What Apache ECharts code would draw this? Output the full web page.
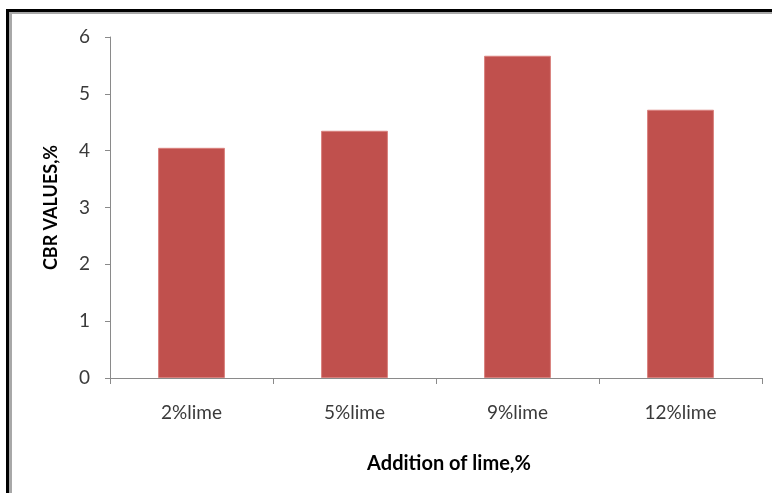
<!DOCTYPE html>
<html>
<head>
<meta charset="utf-8">
<script src="https://cdn.jsdelivr.net/npm/echarts@6/dist/echarts.min.js"></script>
<style>
  html, body { margin: 0; padding: 0; background: #ffffff; }
  #chart { width: 772px; height: 493px; }
</style>
</head>
<body>
<div id="chart"></div>
<script>
// Lime content categories and measured CBR values
const categories = ['2%lime', '5%lime', '9%lime', '12%lime'];
const cbrValues = [4.05, 4.35, 5.67, 4.72];
const yTicks = [0, 1, 2, 3, 4, 5, 6];

const FONT = 'Lato, "Open Sans", sans-serif';
const chart = echarts.init(document.getElementById('chart'), null, { renderer: 'canvas' });

chart.setOption({
  backgroundColor: '#ffffff',
  animation: false,
  grid: { left: 110, right: 10, top: 37, bottom: 115, containLabel: false },
  xAxis: {
    type: 'category',
    data: categories,
    boundaryGap: true,
    name: 'Addition of lime,%',
    nameLocation: 'middle',
    nameGap: 76,
    nameTextStyle: {
      fontFamily: FONT, fontSize: 20, fontWeight: 'bold', color: '#000000',
      padding: [0, 0, 0, 26]
    },
    axisLine: { lineStyle: { color: '#8a8a8a', width: 1 } },
    axisTick: { show: true, length: 6, lineStyle: { color: '#8a8a8a' } },
    axisLabel: { fontFamily: FONT, fontSize: 19, color: '#3a3a3a', margin: 25 }
  },
  yAxis: {
    type: 'value',
    min: yTicks[0],
    max: yTicks[yTicks.length - 1],
    interval: 1,
    name: 'CBR VALUES,%',
    nameLocation: 'middle',
    nameRotate: 90,
    nameGap: 50,
    nameTextStyle: { fontFamily: FONT, fontSize: 18, fontWeight: 'bold', color: '#000000' },
    axisLine: { show: true, lineStyle: { color: '#8a8a8a', width: 1 } },
    axisTick: { show: true, length: 5, lineStyle: { color: '#8a8a8a' } },
    splitLine: { show: false },
    axisLabel: { fontFamily: FONT, fontSize: 19, color: '#3a3a3a', margin: 20 }
  },
  series: [{
    type: 'bar',
    data: cbrValues,
    barWidth: '41%',
    itemStyle: { color: '#C0504D', borderColor: '#d9807d', borderWidth: 1 }
  }],
  graphic: [
    // page frame: dark top and left edges with a soft grey inner shade
    { type: 'rect', shape: { x: 6, y: 9, width: 766, height: 3 }, style: { fill: '#000000' }, silent: true },
    { type: 'rect', shape: { x: 9, y: 12, width: 763, height: 2 }, style: { fill: '#a8a8a8' }, silent: true },
    { type: 'rect', shape: { x: 6, y: 9, width: 3, height: 484 }, style: { fill: '#000000' }, silent: true },
    { type: 'rect', shape: { x: 9, y: 12, width: 3, height: 481 }, style: { fill: '#a8a8a8' }, silent: true }
  ]
});
</script>
</body>
</html>
